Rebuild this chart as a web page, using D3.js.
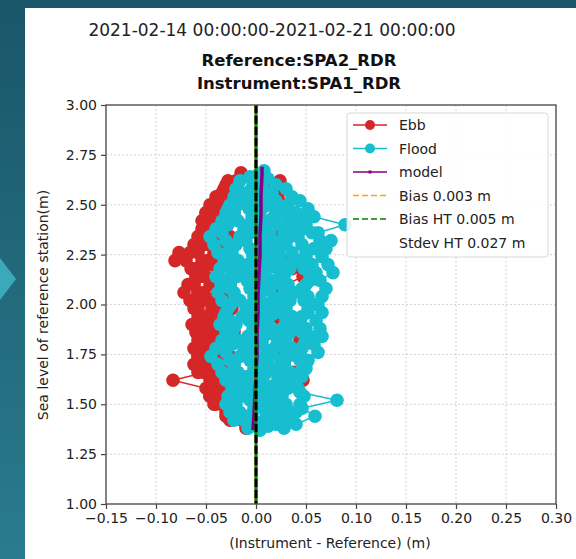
<!DOCTYPE html>
<html>
<head>
<meta charset="utf-8">
<script src="https://cdn.jsdelivr.net/npm/d3@7"></script>
<style>
  html, body { margin: 0; padding: 0; background: #1e5f72; }
  svg { display: block; font-family: "DejaVu Sans", sans-serif; }
</style>
</head>
<body>
<svg id="chart" width="576" height="559"></svg>
<script>
'use strict';

// ---- data ----
var dateTitle = '2021-02-14 00:00:00-2021-02-21 00:00:00',
    titleLines = ['Reference:SPA2_RDR', 'Instrument:SPA1_RDR'];

var xTicks = [-0.15, -0.10, -0.05, 0.00, 0.05, 0.10, 0.15, 0.20, 0.25, 0.30],
    yTicks = [1.00, 1.25, 1.50, 1.75, 2.00, 2.25, 2.50, 2.75, 3.00];

// ebb tides: level of reference station (m) and instrument - reference (m)
var ebbLevel = [
    [2.62, 2.58, 2.54, 2.50, 2.46, 2.42, 2.38, 2.34, 2.30, 2.26, 2.22, 2.18, 2.14, 2.10, 2.06, 2.02,
     1.98, 1.94, 1.90, 1.86, 1.82, 1.78, 1.74, 1.70, 1.66, 1.62, 1.58, 1.54, 1.50, 1.46, 1.42],
    [2.46, 2.42, 2.38, 2.34, 2.30, 2.26, 2.22, 2.18, 2.14, 2.10, 2.06, 2.02, 1.98, 1.94, 1.90, 1.86,
     1.82, 1.78, 1.74, 1.70, 1.66, 1.62, 1.58, 1.54, 1.50],
    [2.30, 2.26, 2.22, 2.18, 2.14, 2.10, 2.06, 2.02, 1.98, 1.94, 1.90, 1.86, 1.82, 1.78, 1.74, 1.70, 1.66],
    [2.66, 2.62, 2.58, 2.54, 2.50, 2.46, 2.42, 2.38, 2.34, 2.30, 2.26, 2.22, 2.18, 2.14, 2.10, 2.06,
     2.02, 1.98, 1.94, 1.90, 1.86, 1.82, 1.78, 1.74, 1.70, 1.66, 1.62, 1.58, 1.54, 1.50, 1.46, 1.42, 1.38],
    [2.62, 2.58, 2.54, 2.50, 2.46, 2.42, 2.38, 2.34, 2.30, 2.26, 2.22, 2.18, 2.14, 2.10, 2.06, 2.02,
     1.98, 1.94, 1.90, 1.86, 1.82, 1.78, 1.74, 1.70, 1.66, 1.62, 1.58, 1.54, 1.50, 1.46, 1.42],
    [2.60, 2.56, 2.52, 2.48, 2.44, 2.40, 2.36, 2.32, 2.28, 2.24, 2.20, 2.16, 2.12, 2.08, 2.04, 2.00,
     1.96, 1.92, 1.88, 1.84, 1.80, 1.76, 1.72, 1.68, 1.64, 1.60, 1.56, 1.52, 1.48, 1.44],
    [2.54, 2.50, 2.46, 2.42, 2.38, 2.34, 2.30, 2.26, 2.22, 2.18, 2.14, 2.10, 2.06, 2.02, 1.98, 1.94,
     1.90, 1.86, 1.82, 1.78, 1.74, 1.70, 1.66, 1.62, 1.58, 1.54, 1.50]
];
var ebbDiff = [
    [-0.028, -0.032, -0.036, -0.040, -0.044, -0.048, -0.044, -0.050, -0.046, -0.042, -0.048, -0.054,
     -0.050, -0.046, -0.052, -0.048, -0.044, -0.050, -0.046, -0.042, -0.048, -0.052, -0.046, -0.042,
     -0.046, -0.040, -0.044, -0.038, -0.034, -0.030, -0.026],
    [-0.050, -0.048, -0.054, -0.058, -0.062, -0.077, -0.081, -0.065, -0.060, -0.062, -0.058, -0.055,
     -0.060, -0.056, -0.052, -0.055, -0.058, -0.062, -0.058, -0.054, -0.050, -0.083, -0.050, -0.046,
     -0.042],
    [-0.060, -0.066, -0.070, -0.064, -0.060, -0.068, -0.072, -0.066, -0.062, -0.058, -0.064, -0.060,
     -0.055, -0.052, -0.058, -0.062, -0.058],
    [-0.015, -0.020, -0.025, -0.030, -0.026, -0.022, -0.028, -0.032, -0.026, -0.022, -0.028, -0.030,
     -0.024, -0.020, -0.026, -0.032, -0.028, -0.024, -0.030, -0.026, -0.022, -0.028, -0.032, -0.026,
     -0.022, -0.028, -0.024, -0.020, -0.026, -0.022, -0.018, -0.014, -0.010],
    [0.024, 0.018, 0.022, 0.028, 0.020, 0.016, 0.030, 0.024, 0.018, 0.022, 0.028, 0.036,
     0.047, 0.030, 0.022, 0.018, 0.024, 0.020, 0.026, 0.032, 0.044, 0.030, 0.024, 0.028,
     0.037, 0.047, 0.030, 0.024, 0.020, 0.016, 0.012],
    [-0.030, -0.034, -0.038, -0.034, -0.040, -0.036, -0.042, -0.038, -0.035, -0.040, -0.044, -0.038,
     -0.042, -0.036, -0.040, -0.044, -0.038, -0.042, -0.036, -0.040, -0.044, -0.038, -0.034, -0.040,
     -0.036, -0.032, -0.036, -0.032, -0.028, -0.030],
    [-0.040, -0.046, -0.050, -0.054, -0.050, -0.056, -0.052, -0.058, -0.054, -0.060, -0.056, -0.062,
     -0.058, -0.054, -0.058, -0.052, -0.056, -0.050, -0.054, -0.058, -0.052, -0.048, -0.052, -0.046,
     -0.042, -0.046, -0.040]
];

// flood tides
var floodLevel = [
    [1.42, 1.46, 1.50, 1.54, 1.58, 1.62, 1.66, 1.70, 1.74, 1.78, 1.82, 1.86, 1.90, 1.94, 1.98, 2.02,
     2.06, 2.10, 2.14, 2.18, 2.22, 2.26, 2.30, 2.34, 2.38, 2.42, 2.46, 2.50, 2.54, 2.58],
    [1.38, 1.42, 1.46, 1.50, 1.54, 1.58, 1.62, 1.66, 1.70, 1.74, 1.78, 1.82, 1.86, 1.90, 1.94, 1.98,
     2.02, 2.06, 2.10, 2.14, 2.18, 2.22, 2.26, 2.30, 2.34, 2.38, 2.42, 2.46, 2.50, 2.54, 2.58, 2.62],
    [1.37, 1.41, 1.45, 1.49, 1.53, 1.57, 1.61, 1.65, 1.69, 1.73, 1.77, 1.81, 1.85, 1.89, 1.93, 1.97,
     2.01, 2.05, 2.09, 2.13, 2.17, 2.21, 2.25, 2.29, 2.33, 2.37, 2.41, 2.45, 2.49, 2.53, 2.57, 2.61, 2.65],
    [1.39, 1.43, 1.47, 1.51, 1.55, 1.59, 1.63, 1.67, 1.71, 1.75, 1.79, 1.83, 1.87, 1.91, 1.95, 1.99,
     2.03, 2.07, 2.11, 2.15, 2.19, 2.23, 2.27, 2.31, 2.35, 2.39, 2.43, 2.47, 2.51, 2.55, 2.59, 2.63, 2.67],
    [1.38, 1.42, 1.46, 1.50, 1.54, 1.58, 1.62, 1.66, 1.70, 1.74, 1.78, 1.82, 1.86, 1.90, 1.94, 1.98,
     2.02, 2.06, 2.10, 2.14, 2.18, 2.22, 2.26, 2.30, 2.34, 2.38, 2.42, 2.46, 2.50, 2.54, 2.58],
    [1.40, 1.44, 1.48, 1.52, 1.56, 1.60, 1.64, 1.68, 1.72, 1.76, 1.80, 1.84, 1.88, 1.92, 1.96, 2.00,
     2.04, 2.08, 2.12, 2.16, 2.20, 2.24, 2.28, 2.32, 2.36, 2.40, 2.44, 2.48, 2.52],
    [1.72, 1.76, 1.80, 1.84, 1.88, 1.92, 1.96, 2.00, 2.04, 2.08, 2.12, 2.16, 2.20, 2.24, 2.28, 2.32,
     2.36, 2.40, 2.44],
    [1.40, 1.44, 1.48, 1.52, 1.56, 1.60, 1.64, 1.68, 1.72, 1.76, 1.80, 1.84, 1.88, 1.92, 1.96, 2.00,
     2.04, 2.08, 2.12, 2.16, 2.20, 2.24, 2.28, 2.32, 2.36, 2.40, 2.44, 2.48, 2.52, 2.56, 2.60, 2.64],
    [1.41, 1.45, 1.49, 1.53, 1.57, 1.61, 1.65, 1.69, 1.73, 1.77, 1.81, 1.85, 1.89, 1.93, 1.97, 2.01,
     2.05, 2.09, 2.13, 2.17, 2.21, 2.25, 2.29, 2.33, 2.37, 2.41, 2.45, 2.49, 2.53, 2.57, 2.61],
    [1.40, 1.44, 1.48, 1.52, 1.56, 1.60, 1.64, 1.68, 1.72, 1.76, 1.80, 1.84, 1.88, 1.92, 1.96, 2.00,
     2.04, 2.08, 2.12, 2.16, 2.20, 2.24, 2.28, 2.32, 2.36, 2.40, 2.44, 2.48, 2.52, 2.56, 2.60],
    [1.44, 1.48, 1.52, 1.56, 1.60, 1.64, 1.68, 1.72, 1.76, 1.80, 1.84, 1.88, 1.92, 1.96, 2.00, 2.04,
     2.08, 2.12, 2.16, 2.20, 2.24, 2.28, 2.32, 2.36, 2.40, 2.44, 2.48, 2.52, 2.56],
    [1.46, 1.50, 1.54, 1.58, 1.62, 1.66, 1.70, 1.74, 1.78, 1.82, 1.86, 1.90, 1.94, 1.98, 2.02, 2.06,
     2.10, 2.14, 2.18, 2.22, 2.26, 2.30, 2.34, 2.38, 2.42, 2.46]
];
var floodDiff = [
    [-0.022, -0.026, -0.030, -0.028, -0.024, -0.030, -0.034, -0.038, -0.045, -0.040, -0.034, -0.030,
     -0.036, -0.032, -0.028, -0.034, -0.038, -0.035, -0.040, -0.036, -0.032, -0.038, -0.042, -0.046,
     -0.040, -0.034, -0.030, -0.026, -0.022, -0.018],
    [-0.008, -0.012, -0.016, -0.020, -0.015, -0.010, -0.014, -0.018, -0.022, -0.016, -0.012, -0.018,
     -0.024, -0.020, -0.014, -0.010, -0.016, -0.022, -0.026, -0.020, -0.014, -0.018, -0.024, -0.020,
     -0.016, -0.012, -0.018, -0.022, -0.018, -0.014, -0.020, -0.016],
    [0.004, 0.000, -0.004, 0.002, 0.006, 0.000, -0.004, 0.004, 0.008, 0.002, -0.002, 0.004,
     0.008, 0.003, -0.003, 0.002, 0.006, 0.000, -0.004, 0.003, 0.007, 0.001, -0.003, 0.004,
     0.008, 0.002, -0.004, 0.000, 0.004, -0.002, -0.006, -0.002, 0.002],
    [0.012, 0.016, 0.020, 0.014, 0.010, 0.016, 0.022, 0.018, 0.012, 0.016, 0.020, 0.024,
     0.018, 0.012, 0.016, 0.022, 0.018, 0.014, 0.020, 0.024, 0.018, 0.012, 0.016, 0.020,
     0.014, 0.010, 0.016, 0.020, 0.014, 0.010, 0.006, 0.012, 0.008],
    [0.028, 0.032, 0.036, 0.030, 0.026, 0.032, 0.038, 0.034, 0.028, 0.032, 0.036, 0.030,
     0.034, 0.040, 0.036, 0.030, 0.034, 0.038, 0.032, 0.028, 0.034, 0.040, 0.036, 0.030,
     0.034, 0.038, 0.032, 0.028, 0.032, 0.036, 0.030],
    [0.040, 0.059, 0.046, 0.081, 0.044, 0.038, 0.046, 0.050, 0.044, 0.040, 0.048, 0.054,
     0.050, 0.044, 0.052, 0.058, 0.052, 0.046, 0.054, 0.060, 0.056, 0.050, 0.058, 0.064,
     0.056, 0.050, 0.046, 0.052, 0.044],
    [0.052, 0.062, 0.058, 0.066, 0.064, 0.060, 0.066, 0.062, 0.066, 0.070, 0.064, 0.077,
     0.072, 0.066, 0.070, 0.075, 0.062, 0.089, 0.058],
    [-0.004, -0.008, -0.002, -0.006, -0.010, -0.004, -0.008, -0.002, -0.006, -0.010, -0.005, -0.008,
     -0.003, -0.007, -0.010, -0.005, -0.002, -0.006, -0.009, -0.004, -0.008, -0.003, -0.006, -0.010,
     -0.005, -0.008, -0.004, -0.007, -0.010, -0.006, -0.003, -0.006],
    [0.006, 0.010, 0.004, 0.008, 0.012, 0.006, 0.009, 0.004, 0.008, 0.011, 0.006, 0.010,
     0.005, 0.008, 0.012, 0.007, 0.004, 0.009, 0.012, 0.006, 0.010, 0.005, 0.008, 0.011,
     0.006, 0.009, 0.004, 0.008, 0.006, 0.003, 0.006],
    [0.020, 0.024, 0.028, 0.022, 0.018, 0.024, 0.028, 0.022, 0.026, 0.030, 0.024, 0.020,
     0.026, 0.030, 0.024, 0.020, 0.026, 0.028, 0.022, 0.026, 0.030, 0.024, 0.020, 0.026,
     0.028, 0.022, 0.018, 0.024, 0.020, 0.016, 0.020],
    [-0.018, -0.022, -0.026, -0.020, -0.024, -0.028, -0.022, -0.026, -0.030, -0.024, -0.028, -0.022,
     -0.026, -0.030, -0.025, -0.021, -0.026, -0.030, -0.024, -0.028, -0.032, -0.026, -0.030, -0.034,
     -0.028, -0.024, -0.028, -0.022, -0.018],
    [0.040, 0.044, 0.048, 0.042, 0.038, 0.044, 0.048, 0.042, 0.046, 0.050, 0.046, 0.040,
     0.046, 0.052, 0.048, 0.044, 0.050, 0.054, 0.048, 0.044, 0.050, 0.046, 0.042, 0.048,
     0.044, 0.040]
];

var modelLevel = [1.37, 1.45, 1.55, 1.65, 1.75, 1.85, 1.95, 2.05, 2.15, 2.25, 2.35, 2.45, 2.55, 2.65, 2.69],
    modelDiff = [-0.003, -0.002, -0.001, 0.000, 0.001, 0.001, 0.002, 0.002, 0.003, 0.004, 0.004, 0.005, 0.005, 0.006, 0.006];

var bias = 0.003,
    biasHT = 0.005,
    stdevHT = 0.027;

var legendItems = [
    {label: 'Ebb', kind: 'dot', color: '#d62728'},
    {label: 'Flood', kind: 'dot', color: '#17becf'},
    {label: 'model', kind: 'model', color: '#800080'},
    {label: 'Bias ' + bias.toFixed(3) + ' m', kind: 'dash', color: '#ffa500'},
    {label: 'Bias HT ' + biasHT.toFixed(3) + ' m', kind: 'dash', color: '#008000'},
    {label: 'Stdev HT ' + stdevHT.toFixed(3) + ' m', kind: 'none'}
];

// ---- drawing ----
var svg = d3.select('#chart'),
    W = 576, H = 559;

var plot = {left: 106, right: 556, top: 105, bottom: 504},
    dotR = 6.8;

var x = d3.scaleLinear().domain([-0.15, 0.30]).range([plot.left, plot.right]),
    y = d3.scaleLinear().domain([1.0, 3.0]).range([plot.bottom, plot.top]);

// backdrop
var defs = svg.append('defs');
var grad = defs.append('linearGradient')
    .attr('id', 'bg').attr('x1', 0).attr('y1', 0).attr('x2', 0).attr('y2', 1);
grad.append('stop').attr('offset', '0%').attr('stop-color', '#1a5669');
grad.append('stop').attr('offset', '100%').attr('stop-color', '#2a7b8e');
svg.append('rect').attr('width', W).attr('height', H).attr('fill', 'url(#bg)');
svg.append('path')
    .attr('d', 'M0,258L16,279L0,300Z')
    .attr('fill', '#3aaabb');
svg.append('rect')
    .attr('x', 25).attr('y', 8)
    .attr('width', W - 25).attr('height', H - 8)
    .attr('fill', '#fff');

defs.append('clipPath').attr('id', 'clip')
    .append('rect')
    .attr('x', plot.left).attr('y', plot.top)
    .attr('width', plot.right - plot.left).attr('height', plot.bottom - plot.top);

// titles
svg.append('text')
    .attr('x', 272).attr('y', 36)
    .attr('text-anchor', 'middle')
    .style('font-size', '17px').style('fill', '#222')
    .text(dateTitle);

svg.selectAll('.title')
    .data(titleLines)
    .enter().append('text')
    .attr('class', 'title')
    .attr('x', 299)
    .attr('y', function(_, i) { return 66 + i * 23; })
    .attr('text-anchor', 'middle')
    .style('font-size', '16.5px').style('font-weight', 'bold').style('fill', '#111')
    .text(function(d) { return d; });

// grid
var grid = svg.append('g').attr('class', 'grid')
    .attr('stroke', '#c8c8c8').attr('stroke-width', 0.8).attr('stroke-dasharray', '2,2');
grid.selectAll('.gx').data(xTicks).enter().append('line')
    .attr('x1', function(d) { return x(d); }).attr('x2', function(d) { return x(d); })
    .attr('y1', plot.top).attr('y2', plot.bottom);
grid.selectAll('.gy').data(yTicks).enter().append('line')
    .attr('y1', function(d) { return y(d); }).attr('y2', function(d) { return y(d); })
    .attr('x1', plot.left).attr('x2', plot.right);

var data = svg.append('g').attr('clip-path', 'url(#clip)');

function drawSeries(levels, diffs, color) {
    var line = d3.line()
        .x(function(d) { return x(d[0]); })
        .y(function(d) { return y(d[1]); });

    levels.forEach(function(lv, k) {
        var pts = lv.map(function(v, i) { return [diffs[k][i], v]; });
        var g = data.append('g');

        g.append('path')
            .attr('d', line(pts))
            .attr('fill', 'none')
            .attr('stroke', color)
            .attr('stroke-width', 1.5);

        g.selectAll('circle')
            .data(pts)
            .enter().append('circle')
            .attr('cx', function(d) { return x(d[0]); })
            .attr('cy', function(d) { return y(d[1]); })
            .attr('r', dotR)
            .attr('fill', color);
    });
}

drawSeries(ebbLevel, ebbDiff, '#d62728');
drawSeries(floodLevel, floodDiff, '#17becf');

// model
var modelPts = modelLevel.map(function(v, i) { return [modelDiff[i], v]; });
data.append('path')
    .attr('d', d3.line()
        .x(function(d) { return x(d[0]); })
        .y(function(d) { return y(d[1]); })(modelPts))
    .attr('fill', 'none')
    .attr('stroke', '#800080')
    .attr('stroke-width', 3.5);

// bias lines (orange and green under the black zero line)
data.append('line')
    .attr('x1', x(0)).attr('x2', x(0))
    .attr('y1', plot.top).attr('y2', plot.bottom)
    .attr('stroke', '#ffa500').attr('stroke-width', 3)
    .attr('stroke-dasharray', '7,3');
data.append('line')
    .attr('x1', x(0)).attr('x2', x(0))
    .attr('y1', plot.top).attr('y2', plot.bottom)
    .attr('stroke', '#008000').attr('stroke-width', 3);
data.append('line')
    .attr('x1', x(0)).attr('x2', x(0))
    .attr('y1', plot.top).attr('y2', plot.bottom)
    .attr('stroke', '#000').attr('stroke-width', 3)
    .attr('stroke-dasharray', '8,3');

// axes
var xAxis = d3.axisBottom(x).tickValues(xTicks).tickSize(5).tickPadding(4)
        .tickFormat(function(d) { return d3.format('.2f')(d).replace('-', '\u2212'); }),
    yAxis = d3.axisLeft(y).tickValues(yTicks).tickSize(5).tickPadding(4)
        .tickFormat(d3.format('.2f'));

svg.append('g')
    .attr('transform', 'translate(0,' + plot.bottom + ')')
    .call(xAxis)
    .call(styleAxis);
svg.append('g')
    .attr('transform', 'translate(' + plot.left + ',0)')
    .call(yAxis)
    .call(styleAxis);

function styleAxis(g) {
    g.select('.domain').remove();
    g.selectAll('line').attr('stroke', '#444').attr('stroke-width', 1.2);
    g.selectAll('text')
        .style('font-family', '"DejaVu Sans", sans-serif')
        .style('font-size', '14px')
        .style('fill', '#222');
}

svg.append('rect')
    .attr('x', plot.left).attr('y', plot.top)
    .attr('width', plot.right - plot.left).attr('height', plot.bottom - plot.top)
    .attr('fill', 'none').attr('stroke', '#555').attr('stroke-width', 1.4);

// axis labels
svg.append('text')
    .attr('x', 330).attr('y', 548)
    .attr('text-anchor', 'middle')
    .style('font-size', '14px').style('fill', '#222')
    .text('(Instrument - Reference) (m)');

svg.append('text')
    .attr('transform', 'translate(48,305) rotate(-90)')
    .attr('text-anchor', 'middle')
    .style('font-size', '14px').style('fill', '#222')
    .text('Sea level of reference station(m)');

// legend
var legend = svg.append('g').attr('transform', 'translate(347,113)');
legend.append('rect')
    .attr('width', 201).attr('height', 144).attr('rx', 3)
    .attr('fill', '#fff').attr('fill-opacity', 0.85)
    .attr('stroke', '#d8d8d8');

var rows = legend.selectAll('.row')
    .data(legendItems)
    .enter().append('g')
    .attr('transform', function(_, i) { return 'translate(0,' + (12 + i * 23.5) + ')'; });

rows.each(function(d) {
    var r = d3.select(this);
    if(d.kind === 'dot' || d.kind === 'model') {
        r.append('line')
            .attr('x1', 6).attr('x2', 40)
            .attr('stroke', d.color).attr('stroke-width', 1.5);
    }
    if(d.kind === 'dot') {
        r.append('circle').attr('cx', 23).attr('r', 5).attr('fill', d.color);
    }
    if(d.kind === 'model') {
        r.append('rect').attr('x', 21.5).attr('y', -1.5)
            .attr('width', 3).attr('height', 3).attr('fill', d.color);
    }
    if(d.kind === 'dash') {
        r.append('line')
            .attr('x1', 6).attr('x2', 40)
            .attr('stroke', d.color).attr('stroke-width', 1.5)
            .attr('stroke-dasharray', '6,3');
    }
    r.append('text')
        .attr('x', 52).attr('y', 5)
        .style('font-size', '14px').style('fill', '#222')
        .text(d.label);
});
</script>
</body>
</html>
